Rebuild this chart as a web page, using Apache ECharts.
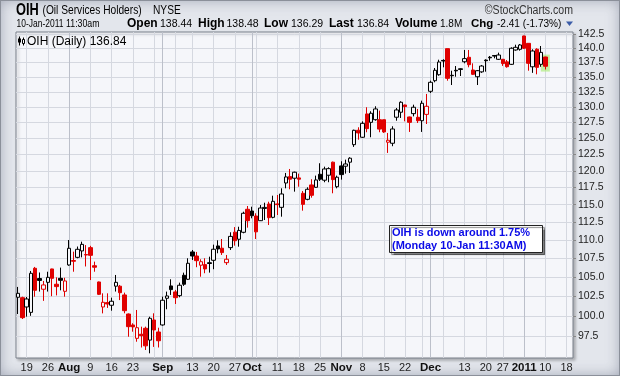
<!DOCTYPE html>
<html>
<head>
<meta charset="utf-8">
<script src="https://cdn.jsdelivr.net/npm/echarts@6/dist/echarts.min.js"></script>
<style>
html,body{margin:0;padding:0;background:#e2e5eb;}
#wrap{position:relative;width:620px;height:376px;background:#e3e6ec;box-shadow:inset 0 0 0 1px #8b909a, inset 0 0 14px rgba(105,113,135,0.55);}
#c{position:absolute;left:0;top:0;width:620px;height:376px;}
</style>
</head>
<body>
<div id="wrap"><div id="c"></div></div>
<script>
// Trading days (categories), Jul 15 2010 .. Jan 19 2011
const dates = [
'2010-07-15','2010-07-16',
'2010-07-19','2010-07-20','2010-07-21','2010-07-22','2010-07-23',
'2010-07-26','2010-07-27','2010-07-28','2010-07-29','2010-07-30',
'2010-08-02','2010-08-03','2010-08-04','2010-08-05','2010-08-06',
'2010-08-09','2010-08-10','2010-08-11','2010-08-12','2010-08-13',
'2010-08-16','2010-08-17','2010-08-18','2010-08-19','2010-08-20',
'2010-08-23','2010-08-24','2010-08-25','2010-08-26','2010-08-27',
'2010-08-30','2010-08-31','2010-09-01','2010-09-02','2010-09-03',
'2010-09-07','2010-09-08','2010-09-09','2010-09-10',
'2010-09-13','2010-09-14','2010-09-15','2010-09-16','2010-09-17',
'2010-09-20','2010-09-21','2010-09-22','2010-09-23','2010-09-24',
'2010-09-27','2010-09-28','2010-09-29','2010-09-30','2010-10-01',
'2010-10-04','2010-10-05','2010-10-06','2010-10-07','2010-10-08',
'2010-10-11','2010-10-12','2010-10-13','2010-10-14','2010-10-15',
'2010-10-18','2010-10-19','2010-10-20','2010-10-21','2010-10-22',
'2010-10-25','2010-10-26','2010-10-27','2010-10-28','2010-10-29',
'2010-11-01','2010-11-02','2010-11-03','2010-11-04','2010-11-05',
'2010-11-08','2010-11-09','2010-11-10','2010-11-11','2010-11-12',
'2010-11-15','2010-11-16','2010-11-17','2010-11-18','2010-11-19',
'2010-11-22','2010-11-23','2010-11-24','2010-11-26',
'2010-11-29','2010-11-30','2010-12-01','2010-12-02','2010-12-03',
'2010-12-06','2010-12-07','2010-12-08','2010-12-09','2010-12-10',
'2010-12-13','2010-12-14','2010-12-15','2010-12-16','2010-12-17',
'2010-12-20','2010-12-21','2010-12-22','2010-12-23',
'2010-12-27','2010-12-28','2010-12-29','2010-12-30','2010-12-31',
'2011-01-03','2011-01-04','2011-01-05','2011-01-06','2011-01-07',
'2011-01-10','2011-01-11','2011-01-12','2011-01-13','2011-01-14',
'2011-01-18','2011-01-19'
];

const opens = [
102.36,102.31,
101.12,100.44,106.16,104.8,103.4,
104.3,106.07,104.05,104.83,103.13,
106.6,107.2,107.63,108.5,108.0,
108.95,106.5,104.35,101.12,101.68,
101.34,103.8,103.8,102.66,100.23,
98.86,97.21,97.71,98.45,97.0,
99.48,97.99,98.86,102.23,103.83,
103.05,102.57,105.23,104.7,
108.36,107.81,106.57,106.65,106.9,
107.23,109.18,108.87,106.91,108.95,
111.09,110.1,111.07,114.33,114.08,
113.37,112.7,114.45,115.09,113.18,
115.1,114.61,118.17,119.12,118.88,
118.93,116.65,115.77,117.88,117.53,
119.47,118.58,119.33,121.3,117.62,
120.73,120.69,121.3,124.0,126.26,
125.16,128.88,127.53,127.95,127.95,
127.95,124.38,124.22,128.35,129.16,
130.34,128.39,128.93,128.34,
127.79,128.81,132.6,134.38,135.39,
137.85,139.9,135.3,136.15,136.4,
137.62,138.39,136.2,135.05,135.88,
137.9,138.4,138.7,138.04,
138.04,137.6,137.17,139.67,139.79,
142.15,140.84,136.75,139.8,137.17,
138.44
];
const closes = [
102.87,99.77,
102.14,105.49,103.26,104.55,103.96,
104.96,104.83,103.74,104.57,104.48,
108.86,107.1,108.72,109.4,107.95,
107.9,106.3,102.74,101.72,101.5,
101.85,104.3,102.95,100.65,98.65,
98.62,98.52,97.54,96.3,99.69,
98.24,96.92,101.98,102.53,103.35,
102.31,103.92,104.05,106.83,
107.81,107.18,107.04,106.07,106.8,
108.73,108.77,108.27,107.37,110.5,
109.9,111.33,113.76,112.7,113.41,
111.13,114.51,114.6,113.13,115.48,
115.0,116.55,119.07,118.73,119.78,
118.73,115.04,117.24,116.36,118.62,
118.73,120.27,120.32,118.67,119.03,
119.42,121.03,121.91,126.26,125.84,
127.37,126.52,128.99,129.69,126.45,
126.0,124.69,126.47,129.53,130.79,
130.07,127.53,129.97,127.79,
130.62,130.13,134.11,136.15,137.57,
137.75,134.78,135.22,136.05,136.3,
138.16,137.11,135.46,136.08,136.88,
137.8,138.3,138.6,138.79,
137.3,136.76,139.97,140.14,140.55,
139.97,137.35,139.49,136.65,139.25,
136.84
];
const lows = [
100.23,99.6,
99.9,100.0,102.44,103.1,101.9,
103.1,102.5,102.6,103.26,102.44,
106.5,105.7,107.5,107.63,106.4,
104.6,105.7,102.65,100.31,101.0,
100.65,103.1,102.0,100.32,97.41,
98.03,96.8,96.1,95.8,95.4,
96.17,96.1,98.77,100.83,102.66,
101.5,102.36,103.83,104.61,
107.27,106.3,105.04,105.5,105.58,
106.03,108.18,107.95,106.6,108.63,
109.22,109.08,110.93,111.72,113.04,
110.14,112.66,112.8,112.09,113.04,
113.51,113.27,117.38,117.24,116.89,
117.62,114.13,115.63,116.01,117.47,
118.47,118.28,118.28,116.65,117.38,
118.67,119.57,119.67,123.65,124.78,
125.05,125.95,125.16,127.79,125.95,
125.84,122.72,123.76,127.79,128.23,
127.69,126.0,128.49,127.42,
126.0,127.26,132.32,134.11,135.22,
136.66,134.38,133.65,135.05,135.17,
137.35,136.66,135.34,133.65,135.71,
135.91,137.8,138.21,137.92,
136.9,136.6,137.06,139.55,139.55,
139.84,136.08,135.71,135.46,136.75,
136.29
];
const highs = [
103.7,102.44,
102.4,105.8,106.34,105.6,104.48,
105.7,106.1,104.96,106.25,104.9,
110.0,108.4,109.1,109.77,109.3,
109.2,107.05,104.4,102.87,102.87,
102.31,105.27,103.96,102.96,100.3,
99.07,100.74,98.65,98.65,99.89,
100.32,98.52,102.44,103.09,104.7,
103.31,104.26,105.58,107.5,
108.63,108.36,107.37,107.5,107.72,
109.36,109.96,110.14,107.95,111.07,
111.8,111.85,113.98,114.8,114.7,
113.76,114.94,115.28,115.42,116.3,
116.4,117.38,119.67,120.27,119.87,
119.57,116.99,117.53,118.73,119.27,
121.14,120.62,120.53,121.39,119.27,
121.44,121.69,122.06,126.36,126.74,
127.69,129.97,129.32,130.13,129.42,
127.95,125.84,126.9,129.85,130.95,
130.4,128.45,130.39,129.69,
131.05,132.16,134.38,136.54,137.97,
138.04,139.9,136.08,136.88,136.49,
139.67,139.67,137.35,136.2,137.06,
138.04,138.62,138.79,139.2,
138.1,137.92,140.14,140.6,140.72,
142.2,140.84,139.79,139.97,140.37,
138.48
];

const yTicks = [97.5,100,102.5,105,107.5,110,112.5,115,117.5,120,122.5,125,127.5,130,132.5,135,137.5,140,142.5];

const xLabelText = {
'2010-07-19':'19','2010-07-26':'26','2010-08-02':'Aug','2010-08-09':'9','2010-08-16':'16','2010-08-23':'23',
'2010-09-01':'Sep','2010-09-13':'13','2010-09-20':'20','2010-09-27':'27','2010-10-01':'Oct','2010-10-11':'11',
'2010-10-18':'18','2010-10-25':'25','2010-11-01':'Nov','2010-11-08':'8','2010-11-15':'15','2010-11-22':'22',
'2010-12-01':'Dec','2010-12-13':'13','2010-12-20':'20','2010-12-27':'27','2011-01-03':'2011','2011-01-10':'10','2011-01-18':'18'
};
const boldLabels = ['Aug','Sep','Oct','Nov','Dec','2011'];
const weekLines = ['2010-07-19','2010-07-26','2010-08-09','2010-08-16','2010-08-23','2010-08-30','2010-09-07','2010-09-13',
'2010-09-20','2010-09-27','2010-10-04','2010-10-11','2010-10-18','2010-10-25','2010-11-08','2010-11-15','2010-11-22',
'2010-11-29','2010-12-06','2010-12-13','2010-12-20','2010-12-27','2011-01-10','2011-01-18'];
const monthLines = ['2010-08-02','2010-09-01','2010-10-01','2010-11-01','2010-12-01','2011-01-03'];

const RED = '#e00000', BLACK = '#000000', HOLLOW = '#f6f7fb';
const candles = opens.map((o, i) => {
  const c = closes[i];
  const stroke = (i === 0 || c >= closes[i - 1]) ? BLACK : RED;
  const fill = c > o ? HOLLOW : stroke;
  return { value: [o, c, lows[i], highs[i]],
           itemStyle: { color: fill, color0: fill, borderColor: stroke, borderColor0: stroke } };
});
const lastIdx = opens.length - 1;
const highlight = [[dates[lastIdx], (highs[lastIdx] + lows[lastIdx]) / 2]];

const FONT = '"Liberation Sans", Arial, sans-serif';

function txt(x, y, text, font, extra) {
  return Object.assign({ type: 'text', x: x, y: y, z: 100,
    style: { text: text, font: font + ' ' + FONT, fill: '#000', verticalAlign: 'middle' } }, extra || {});
}

const graphics = [
  txt(16, 10.5, 'OIH', 'bold 16px', { scaleX: 0.8 }),
  txt(42.5, 11, '(Oil Services Holders)', '12px', { scaleX: 0.85 }),
  txt(153, 11, 'NYSE', '12px', { scaleX: 0.85 }),
  { type: 'text', x: 573, y: 11, z: 100, scaleX: 0.88,
    style: { text: '\u00A9StockCharts.com', font: '12px ' + FONT, fill: '#333', align: 'right', verticalAlign: 'middle' } },

  txt(16.5, 24, '10-Jan-2011', '11px', { scaleX: 0.77 }),
  txt(66, 24, '11:30am', '11px', { scaleX: 0.8 }),
  txt(127, 24, 'Open', 'bold 12px'),
  txt(160, 24, '138.44', '10.5px'),
  txt(198, 24, 'High', 'bold 12px'),
  txt(226.5, 24, '138.48', '10.5px'),
  txt(264, 24, 'Low', 'bold 12px'),
  txt(291, 24, '136.29', '10.5px'),
  txt(329, 24, 'Last', 'bold 12px'),
  txt(357, 24, '136.84', '10.5px'),
  txt(395, 24, 'Volume', 'bold 12px'),
  txt(440, 24, '1.8M', '10px'),
  txt(471, 24, 'Chg', 'bold 11.5px'),
  txt(497, 24, '-2.41 (-1.73%)', '10.5px', { scaleX: 0.96 }),
  { type: 'polygon', z: 100, shape: { points: [[566, 21.5], [573, 21.5], [569.5, 26]] }, style: { fill: '#3b5ca8' } },

  { type: 'line', z: 100, shape: { x1: 19.5, y1: 36.5, x2: 19.5, y2: 45.5 }, style: { stroke: '#000', lineWidth: 1 } },
  { type: 'rect', z: 100, shape: { x: 18, y: 38.5, width: 3, height: 4 }, style: { fill: '#000' } },
  { type: 'line', z: 100, shape: { x1: 23.5, y1: 37.5, x2: 23.5, y2: 45.5 }, style: { stroke: '#000', lineWidth: 1 } },
  { type: 'rect', z: 100, shape: { x: 22.5, y: 39.5, width: 2, height: 4 }, style: { fill: '#fff', stroke: '#000', lineWidth: 1 } },
  txt(27, 41.5, 'OIH (Daily) 136.84', '12px'),

  { type: 'rect', z: 100, shape: { x: 389.5, y: 225.5, width: 153, height: 27 },
    style: { fill: '#ffffff', stroke: '#222', lineWidth: 1, shadowColor: 'rgba(0,0,0,0.45)', shadowOffsetX: 2, shadowOffsetY: 2, shadowBlur: 1 } },
  { type: 'text', x: 392, y: 232.5, z: 101, style: { text: 'OIH is down around 1.75%', font: 'bold 11px ' + FONT, fill: '#0a0ae6', verticalAlign: 'middle' } },
  { type: 'text', x: 392, y: 245.5, z: 101, style: { text: '(Monday 10-Jan 11:30AM)', font: 'bold 11px ' + FONT, fill: '#0a0ae6', verticalAlign: 'middle' } }
];

const chart = echarts.init(document.getElementById('c'), null, { renderer: 'canvas' });
const option = {
  animation: false,
  grid: { left: 16, right: 47, top: 32, bottom: 18, show: true, backgroundColor: '#f5f6fa',
          borderColor: '#7b808b', borderWidth: 1,
          shadowColor: 'rgba(0,0,0,0.25)', shadowBlur: 3, shadowOffsetX: 2, shadowOffsetY: 2 },
  xAxis: [{
    type: 'category', data: dates, boundaryGap: true,
    axisLine: { show: false }, axisTick: { show: false },
    axisLabel: {
      interval: (i, v) => xLabelText[v] !== undefined,
      formatter: (v) => { const t = xLabelText[v] || ''; return boldLabels.includes(t) ? '{b|' + t + '}' : t; },
      margin: 4, fontSize: 11, fontFamily: FONT, color: '#222',
      rich: { b: { fontWeight: 'bold', fontSize: 11.5, fontFamily: FONT, color: '#111' } }
    },
    splitLine: { show: true, alignWithLabel: true, interval: (i, v) => weekLines.includes(v),
                 lineStyle: { color: '#d5d8e0', width: 1 } }
  }, {
    type: 'category', data: dates, boundaryGap: true, position: 'bottom',
    axisLine: { show: false }, axisTick: { show: false }, axisLabel: { show: false },
    splitLine: { show: true, alignWithLabel: true, interval: (i, v) => monthLines.includes(v),
                 lineStyle: { color: '#bcc0ca', width: 1 } }
  }],
  yAxis: {
    type: 'log', logBase: 10, min: 94.84, max: 142.86, position: 'right',
    axisLine: { show: false },
    axisTick: { show: true, customValues: yTicks, length: 3, lineStyle: { color: '#888' } },
    axisLabel: { customValues: yTicks, formatter: (v) => Number(v).toFixed(1), margin: 5,
                 fontSize: 10.5, fontFamily: FONT, color: '#222' },
    splitLine: { show: true, lineStyle: { color: '#d5d8e0', width: 1 } }
  },
  series: [{
    type: 'scatter', data: highlight, symbol: 'rect', symbolSize: [9, 17], z: 1,
    itemStyle: { color: 'rgba(175,236,125,0.85)' }, silent: true
  }, {
    type: 'candlestick', data: candles, barWidth: 4, z: 3,
    itemStyle: { borderWidth: 1 }
  }],
  graphic: graphics
};
chart.setOption(option);
</script>
</body>
</html>
